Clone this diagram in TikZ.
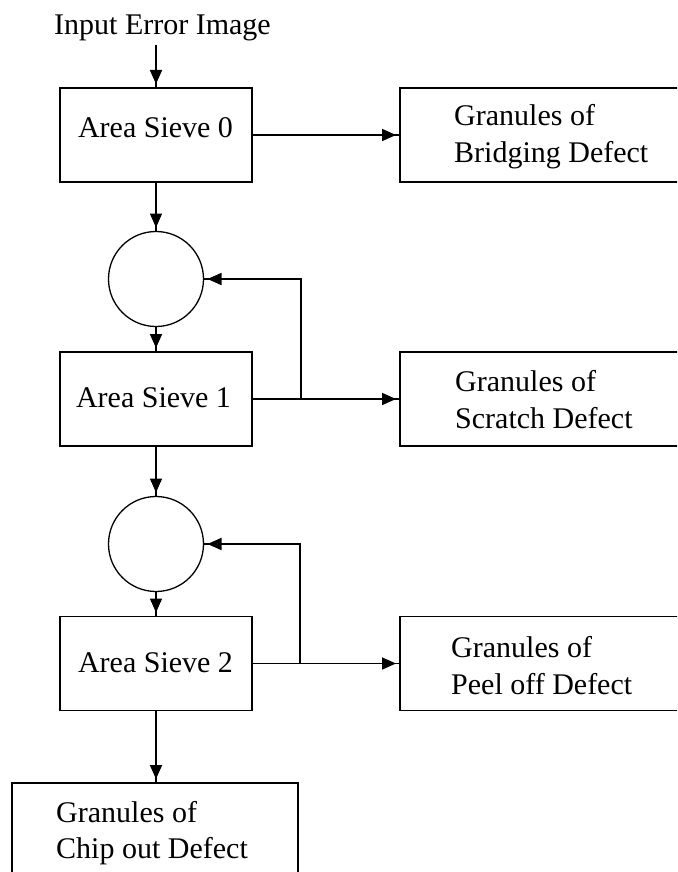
\documentclass[tikz,border=0pt]{standalone}
\usepackage{fontspec}
\setmainfont{Liberation Serif}
\usetikzlibrary{arrows.meta}
\begin{document}
\begin{tikzpicture}[x=1pt,y=-1pt,
  lw/.style={line width=1.7pt},
  box/.style={draw, lw, rectangle, inner sep=0pt, outer sep=0pt, minimum height=94pt},
  sieve/.style={box, minimum width=192pt},
  outbox/.style={box, minimum width=300pt},
  junction/.style={draw, circle, line width=1.3pt, minimum size=95pt, inner sep=0pt, outer sep=0pt},
  lbl/.style={inner sep=0pt, font=\fontsize{30}{37}\selectfont},
  flow/.style={lw, postaction={draw, lw, -{Triangle[length=14pt,width=12pt]}, shorten >=4pt}}
]
\useasboundingbox (0,0) rectangle (677,872);
\clip (0,0) rectangle (677,872);
\fill[white] (0,0) rectangle (677,872);

% sieve column
\node[sieve] (s0) at (156,135) {};
\node[junction] (c1) at (156,279) {};
\node[sieve] (s1) at (156,399) {};
\node[junction] (c2) at (156,544) {};
\node[sieve] (s2) at (156,663.5) {};
\node[box, minimum width=286.5pt] (chip) at (155,830) {};

% output boxes
\node[outbox] (g0) at (550,135) {};
\node[outbox] (g1) at (550,399) {};
\node[outbox] (g2) at (550,663.5) {};

% labels
\node[lbl, anchor=base] (inp) at (162.5,35) {Input Error Image};
\node[lbl, anchor=base] (ts0) at (155.5,138) {Area Sieve 0};
\node[lbl, anchor=base] (ts1) at (153.5,407) {Area Sieve 1};
\node[lbl, anchor=base] (ts2) at (155.5,672) {Area Sieve 2};
\node[lbl, anchor=base west] (tg0a) at (454,125) {Granules of};
\node[lbl, anchor=base west] (tg0b) at (454,162) {Bridging Defect};
\node[lbl, anchor=base west] (tg1a) at (455,391) {Granules of};
\node[lbl, anchor=base west] (tg1b) at (455,428) {Scratch Defect};
\node[lbl, anchor=base west] (tg2a) at (451,657) {Granules of};
\node[lbl, anchor=base west] (tg2b) at (451,694) {Peel off Defect};
\node[lbl, anchor=base west] (tca) at (56,822) {Granules of};
\node[lbl, anchor=base west] (tcb) at (56,858) {Chip out Defect};

% connectors
\coordinate (inArrow) at (156,45);
\coordinate (fb1) at (301,399);
\coordinate (fb2) at (300,663.5);

\draw[flow] (inArrow) -- (s0);
\draw[flow] (s0) -- (c1);
\draw[flow] (c1) -- (s1);
\draw[flow] (s1) -- (c2);
\draw[flow] (c2) -- (s2);
\draw[flow] (s2.south) -- (s2.south |- chip.north);

\draw[flow] (s0) -- (g0);
\draw[flow] (s1) -- (g1);
\draw[flow] (s2) -- (g2);

\draw[flow] (fb1) |- (c1.east);
\draw[flow] (fb2) |- (c2.east);
\end{tikzpicture}
\end{document}
